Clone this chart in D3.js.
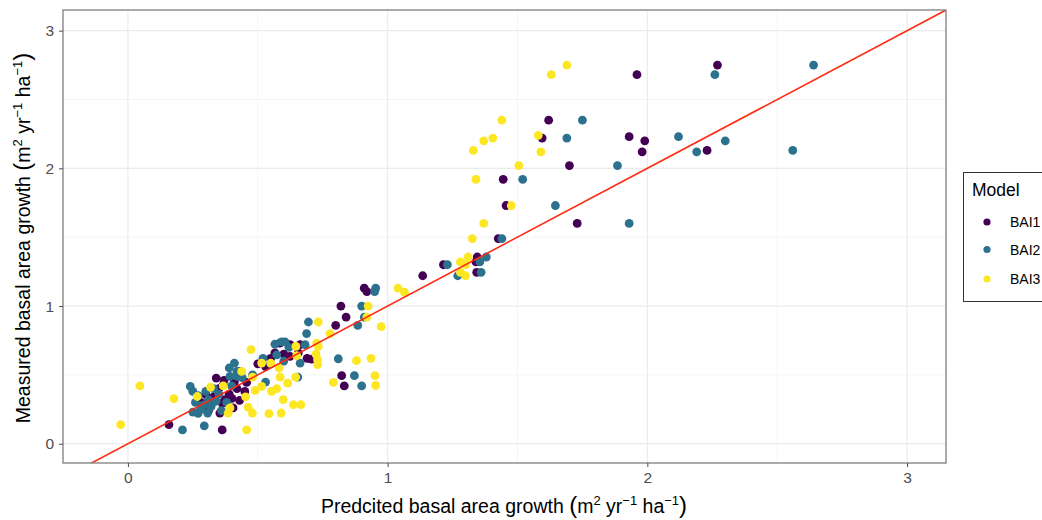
<!DOCTYPE html>
<html><head><meta charset="utf-8">
<script src="https://cdn.jsdelivr.net/npm/d3@7"></script>
<style>body{margin:0;background:#fff}svg{font-family:Arial,"Liberation Sans",Helvetica,sans-serif}</style>
</head><body>
<svg id="c" width="1042" height="520"></svg>
<script>
const seriesNames = ["BAI1", "BAI2", "BAI3"];
const seriesColors = ["#440154", "#2c728e", "#fde725"];
const xTicks = [0, 1, 2, 3];
const yTicks = [0, 1, 2, 3];
// [predicted, measured]
const bai1 = [[2.27,2.75],[1.96,2.68],[1.62,2.35],[1.93,2.23],[1.595,2.22],[1.99,2.20],[2.23,2.13],[1.98,2.12],[1.70,2.02],[1.445,1.92],[1.456,1.73],[1.73,1.60],[1.426,1.49],[1.345,1.356],[1.34,1.32],[1.215,1.30],[1.343,1.245],[1.135,1.22],[0.91,1.13],[0.92,1.105],[0.82,1.00],[0.84,0.92],[0.80,0.86],
 [0.624,0.72],[0.663,0.72],[0.585,0.73],[0.656,0.66],[0.566,0.66],[0.624,0.634],[0.707,0.615],[0.60,0.65],[0.823,0.494],[0.833,0.42],[0.43,0.525],[0.34,0.477],[0.367,0.428],[0.30,0.356],[0.374,0.32],[0.405,0.26],[0.43,0.315],[0.457,0.445],[0.41,0.45],[0.363,0.10],[0.158,0.138],[0.35,0.40],[0.32,0.28],[0.39,0.36],[0.354,0.223],[0.50,0.58],[0.55,0.62],[0.53,0.56],[0.69,0.62],[0.45,0.38],[0.28,0.30],[0.363,0.294],[0.33,0.34],[0.42,0.40],[0.37,0.46],[0.40,0.33],[0.31,0.24]];
const bai2 = [[2.64,2.75],[2.26,2.68],[1.75,2.35],[2.12,2.23],[1.69,2.22],[2.30,2.20],[2.56,2.13],[2.19,2.12],[1.885,2.02],[1.52,1.92],[1.646,1.73],[1.93,1.60],[1.44,1.49],[1.38,1.356],[1.355,1.32],[1.23,1.30],[1.36,1.245],[1.27,1.22],[0.954,1.13],[0.95,1.105],[0.90,1.00],[0.91,0.92],[0.885,0.86],
 [0.695,0.884],[0.688,0.80],[0.592,0.74],[0.605,0.74],[0.682,0.72],[0.566,0.723],[0.573,0.646],[0.663,0.586],[0.654,0.484],[0.81,0.617],[0.872,0.494],[0.90,0.42],[0.53,0.448],[0.41,0.585],[0.42,0.525],[0.393,0.489],[0.42,0.489],[0.31,0.32],[0.307,0.223],[0.294,0.13],[0.21,0.10],[0.24,0.416],[0.26,0.30],[0.28,0.25],[0.25,0.23],[0.30,0.38],[0.33,0.40],[0.27,0.35],[0.35,0.36],[0.38,0.30],[0.29,0.28],[0.55,0.58],[0.60,0.60],[0.48,0.50],[0.52,0.62],
 [0.27,0.22],[0.32,0.27],[0.36,0.24],[0.40,0.42],[0.44,0.48],[0.25,0.38],[0.34,0.31],[0.39,0.55],[0.62,0.70]];
const bai3 = [[1.69,2.75],[1.63,2.68],[1.44,2.35],[1.58,2.24],[1.405,2.22],[1.37,2.20],[1.33,2.13],[1.59,2.12],[1.505,2.02],[1.34,1.92],[1.476,1.73],[1.37,1.60],[1.326,1.49],[1.31,1.356],[1.28,1.32],[1.30,1.30],[1.28,1.245],[1.30,1.22],[1.04,1.13],[1.065,1.10],[0.925,1.00],[0.92,0.92],[0.975,0.85],
 [0.733,0.884],[0.778,0.80],[0.727,0.73],[0.733,0.707],[0.65,0.64],[0.724,0.65],[0.73,0.61],[0.73,0.574],[0.88,0.603],[0.936,0.62],[0.582,0.55],[0.646,0.484],[0.586,0.484],[0.615,0.44],[0.791,0.445],[0.951,0.494],[0.954,0.423],[0.573,0.40],[0.598,0.32],[0.637,0.283],[0.666,0.283],[0.59,0.223],[0.543,0.218],[0.515,0.586],[0.55,0.586],[0.474,0.683],[0.438,0.525],[0.48,0.484],[0.49,0.387],[0.453,0.34],[0.463,0.266],[0.479,0.223],[0.386,0.223],[0.393,0.26],[0.367,0.42],[0.318,0.41],[0.267,0.343],[0.046,0.42],[0.177,0.327],[-0.028,0.138],[0.457,0.10],[0.515,0.416],[0.553,0.38],[0.647,0.707]];
const seriesData = [bai1, bai2, bai3];

const svg = d3.select("#c");
const L = 63, R = 946, T = 10, B = 463;
const x = d3.scaleLinear().domain([-0.25, 3.15]).range([L, R]);
const y = d3.scaleLinear().domain([-0.14, 3.15]).range([B, T]);

svg.append("defs").append("clipPath").attr("id","clip").append("rect")
  .attr("x", L).attr("y", T).attr("width", R - L).attr("height", B - T);

const g = svg.append("g");
[0.5,1.5,2.5].forEach(v => {
  g.append("line").attr("x1", x(v)).attr("x2", x(v)).attr("y1", T).attr("y2", B).attr("stroke","#f2f2f2").attr("stroke-width",0.8);
  g.append("line").attr("y1", y(v)).attr("y2", y(v)).attr("x1", L).attr("x2", R).attr("stroke","#f2f2f2").attr("stroke-width",0.8);
});
xTicks.forEach(v => g.append("line").attr("x1", x(v)).attr("x2", x(v)).attr("y1", T).attr("y2", B).attr("stroke","#ebebeb").attr("stroke-width",1.2));
yTicks.forEach(v => g.append("line").attr("y1", y(v)).attr("y2", y(v)).attr("x1", L).attr("x2", R).attr("stroke","#ebebeb").attr("stroke-width",1.2));

const pts = svg.append("g").attr("clip-path","url(#clip)");
seriesData.forEach((data, i) => {
  pts.selectAll(null).data(data).enter().append("circle")
    .attr("cx", d => x(d[0])).attr("cy", d => y(d[1])).attr("r", 4.4)
    .attr("fill", seriesColors[i]);
});
pts.append("line").attr("x1", x(-0.25)).attr("y1", y(-0.25)).attr("x2", x(3.3)).attr("y2", y(3.3))
  .attr("stroke", "#ff2a12").attr("stroke-width", 1.6);

svg.append("rect").attr("x", L).attr("y", T).attr("width", R - L).attr("height", B - T)
  .attr("fill","none").attr("stroke","#7f7f7f").attr("stroke-width",1.3);

const xa = svg.append("g").attr("transform", `translate(0,${B})`)
  .call(d3.axisBottom(x).tickValues(xTicks).tickSize(4).tickPadding(5).tickFormat(d3.format("d")));
const ya = svg.append("g").attr("transform", `translate(${L},0)`)
  .call(d3.axisLeft(y).tickValues(yTicks).tickSize(4).tickPadding(5).tickFormat(d3.format("d")));
[xa, ya].forEach(a => {
  a.select(".domain").remove();
  a.selectAll(".tick line").attr("stroke","#4d4d4d").attr("stroke-width",1);
  a.selectAll(".tick text").attr("fill","#4d4d4d").style("font-size","15.5px").style("font-family","Arial,'Liberation Sans',sans-serif");
});

function unitTitle(sel, pre) {
  sel.append("tspan").text(pre + " ");
  sel.append("tspan").text("(").style("font-size","24px");
  sel.append("tspan").text("m");
  sel.append("tspan").text("2").attr("dy",-8).style("font-size","13px");
  sel.append("tspan").text(" yr").attr("dy",8);
  sel.append("tspan").text("−1").attr("dy",-8).style("font-size","13px");
  sel.append("tspan").text(" ha").attr("dy",8);
  sel.append("tspan").text("−1").attr("dy",-8).style("font-size","13px");
  sel.append("tspan").text(")").attr("dy",8).style("font-size","24px");
}
const xt = svg.append("text").attr("x", 504).attr("y", 513).attr("text-anchor","middle")
  .style("font-size","19.5px").attr("fill","#000");
unitTitle(xt, "Predcited basal area growth");
const yt = svg.append("text").attr("transform","translate(30,238) rotate(-90)").attr("text-anchor","middle")
  .style("font-size","19.5px").attr("fill","#000");
unitTitle(yt, "Measured basal area growth");

const lg = svg.append("g");
lg.append("rect").attr("x", 963.5).attr("y", 172.5).attr("width", 90).attr("height", 129)
  .attr("fill","#fff").attr("stroke","#333").attr("stroke-width",1);
lg.append("text").attr("x", 972).attr("y", 196).text("Model").style("font-size","17.5px").attr("fill","#000");
seriesNames.forEach((n, i) => {
  const yy = [222, 249.5, 279][i];
  lg.append("circle").attr("cx", 987).attr("cy", yy).attr("r", 3.6).attr("fill", seriesColors[i]);
  lg.append("text").attr("x", 1010).attr("y", yy + 5).text(n).style("font-size","14px").attr("fill","#000");
});
</script>
</body></html>
